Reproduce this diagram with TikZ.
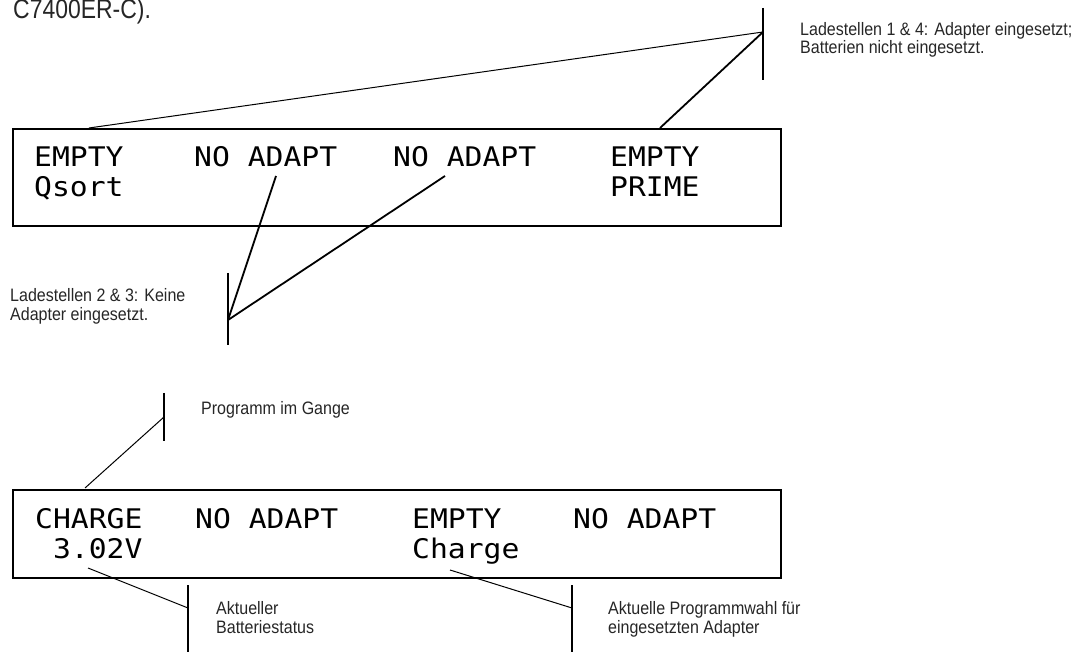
\documentclass[tikz,border=0pt]{standalone}
\usepackage{fontspec}
\setmainfont{Liberation Sans}
\newfontfamily\notefont[FakeStretch=0.89]{Liberation Sans}
\newfontfamily\headfont[FakeStretch=0.85]{Liberation Sans}
\newfontfamily\lcdfont[FakeStretch=1.1]{DejaVu Sans Mono}

\begin{document}
\begin{tikzpicture}[x=1pt,y=-1pt,
  lcd/.style={font=\lcdfont\fontsize{27}{27}\selectfont, anchor=base west, inner sep=0pt},
  note/.style={font=\notefont\fontsize{18}{19}\selectfont, anchor=base west, inner sep=0pt, text=black!85},
  head/.style={font=\headfont\fontsize{27}{27}\selectfont, anchor=base west, inner sep=0pt, text=black!85},
  panel/.style={draw, line width=2pt, anchor=north west, inner sep=0pt},
  leader/.style={line width=1pt},
  heavyleader/.style={line width=1.8pt},
  tick/.style={line width=1.2pt}]
\useasboundingbox (0,0) rectangle (1085,652);

% caption fragment at the top
\node[head] (caption) at (13,19) {C7400ER-C).};

% ---------- first display ----------
\node[panel, minimum width=768pt, minimum height=97pt] (lcdA) at (12,128) {};
\node[lcd] (a1) at (34,167) {EMPTY};
\node[lcd] (a2) at (194,167) {NO ADAPT};
\node[lcd] (a3) at (393,167) {NO ADAPT};
\node[lcd] (a4) at (610,167) {EMPTY};
\node[lcd] (a5) at (34,197) {Qsort};
\node[lcd] (a6) at (610,197) {PRIME};

% callout: slots 1 and 4
\coordinate (tA) at (763,8);
\coordinate (tB) at (763,80);
\coordinate (tJ) at (763,32);
\coordinate (pA1) at (89,128);
\coordinate (pA4) at (660,128);
\draw[tick] (tA) -- (tB);
\draw[leader] (pA1) -- (tJ);
\draw[heavyleader] (pA4) -- (tJ);
\node[note] (n1a) at (800,36) {Ladestellen 1 \& 4: Adapter eingesetzt;};
\node[note] (n1b) at (800,54) {Batterien nicht eingesetzt.};

% callout: slots 2 and 3
\coordinate (mA) at (228,273);
\coordinate (mB) at (228,345);
\coordinate (mJ) at (228,320);
\coordinate (pA2) at (276,176);
\coordinate (pA3) at (445,176);
\draw[tick] (mA) -- (mB);
\draw[heavyleader] (pA2) -- (mJ);
\draw[heavyleader] (pA3) -- (mJ);
\node[note] (n2a) at (10,302) {Ladestellen 2 \& 3: Keine};
\node[note] (n2b) at (10,321) {Adapter eingesetzt.};

% ---------- second display ----------
\node[panel, minimum width=768pt, minimum height=88pt] (lcdB) at (12,489) {};
\node[lcd] (b1) at (35,528) {CHARGE};
\node[lcd] (b2) at (195,528) {NO ADAPT};
\node[lcd] (b3) at (412,528) {EMPTY};
\node[lcd] (b4) at (573,528) {NO ADAPT};
\node[lcd] (b5) at (35,558) {\ 3.02V};
\node[lcd] (b6) at (412,558) {Charge};

% callout: running program
\coordinate (gA) at (164,393);
\coordinate (gB) at (164,441);
\coordinate (gJ) at (164,417);
\coordinate (pB1) at (85,488);
\draw[tick] (gA) -- (gB);
\draw[leader] (pB1) -- (gJ);
\node[note] (n3) at (201,414) {Programm im Gange};

% callout: battery status
\coordinate (sA) at (188,585);
\coordinate (sB) at (188,652);
\coordinate (sJ) at (188,608);
\coordinate (pB5) at (88,568);
\draw[tick] (sA) -- (sB);
\draw[leader] (pB5) -- (sJ);
\node[note] (n4a) at (216,614) {Aktueller};
\node[note] (n4b) at (216,633) {Batteriestatus};

% callout: selected program
\coordinate (cA) at (572,585);
\coordinate (cB) at (572,652);
\coordinate (cJ) at (572,608);
\coordinate (pB6) at (450,570);
\draw[tick] (cA) -- (cB);
\draw[leader] (pB6) -- (cJ);
\node[note] (n5a) at (608,614) {Aktuelle Programmwahl für};
\node[note] (n5b) at (608,633) {eingesetzten Adapter};
\end{tikzpicture}
\end{document}
